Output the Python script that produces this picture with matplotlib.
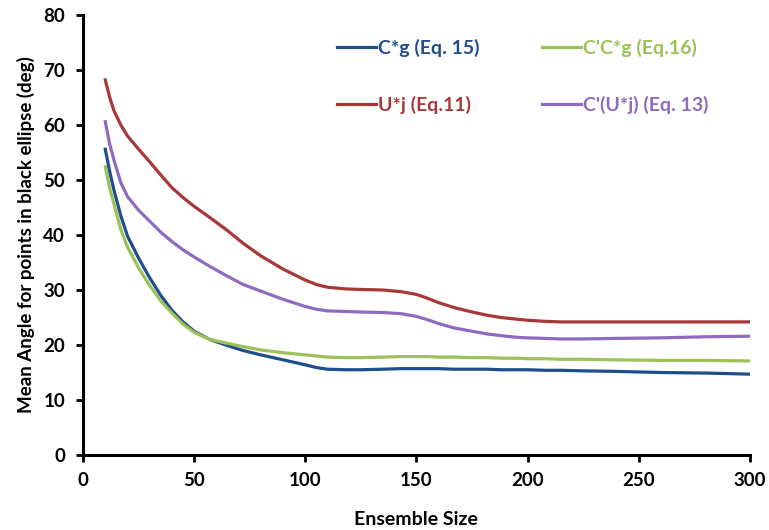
import numpy as np
import matplotlib.pyplot as plt

plt.rcParams['font.family'] = ['Lato', 'DejaVu Sans']

ens = [10, 12, 14, 17, 20, 25, 30, 35, 40, 45, 50, 57, 65, 72, 80, 90, 100, 105, 110, 118,
       125, 135, 143, 150, 155, 160, 167, 175, 182, 188, 195, 200, 208, 215, 225, 240, 260, 280, 300]

cg = [55.6, 51.5, 48.0, 43.5, 39.8, 35.8, 32.2, 29.0, 26.3, 24.2, 22.5, 21.0, 19.9, 19.0, 18.2, 17.3, 16.4, 15.9, 15.6, 15.5,
      15.5, 15.6, 15.7, 15.7, 15.7, 15.7, 15.6, 15.6, 15.6, 15.5, 15.5, 15.5, 15.4, 15.4, 15.3, 15.2, 15.0, 14.9, 14.7]
ccg = [52.4, 48.5, 45.5, 41.0, 37.8, 34.0, 30.8, 28.0, 25.8, 23.8, 22.3, 21.0, 20.3, 19.7, 19.1, 18.6, 18.2, 18.0, 17.8, 17.7,
       17.7, 17.8, 17.9, 17.9, 17.9, 17.8, 17.8, 17.7, 17.7, 17.6, 17.6, 17.5, 17.5, 17.4, 17.4, 17.3, 17.2, 17.2, 17.1]
uj = [68.2, 65.0, 62.5, 60.0, 58.0, 55.6, 53.3, 50.9, 48.6, 46.8, 45.2, 43.2, 40.8, 38.5, 36.2, 33.8, 31.8, 31.0, 30.5, 30.2,
      30.1, 30.0, 29.7, 29.2, 28.5, 27.7, 26.8, 26.0, 25.4, 25.0, 24.7, 24.5, 24.3, 24.2, 24.2, 24.2, 24.2, 24.2, 24.2]
cuj = [60.6, 56.5, 53.5, 49.5, 47.0, 44.5, 42.5, 40.5, 38.8, 37.3, 36.0, 34.3, 32.5, 31.0, 29.8, 28.3, 27.0, 26.5, 26.2, 26.1,
       26.0, 25.9, 25.7, 25.2, 24.6, 23.9, 23.1, 22.5, 22.0, 21.7, 21.4, 21.3, 21.2, 21.1, 21.1, 21.2, 21.3, 21.5, 21.6]

labels = ['C*g (Eq. 15)', 'U*j (Eq.11)', "C'C*g (Eq.16)", "C'(U*j) (Eq. 13)"]
colors = ['#1f4e8c', '#a83838', '#9bc157', '#8e6bbf']

fig = plt.figure(figsize=(7.69, 5.30), dpi=100)
ax = fig.add_axes([0.108, 0.1415, 0.867, 0.8302])

for ys, lab, c in zip([cg, uj, ccg, cuj], labels, colors):
    ax.plot(ens, ys, color=c, lw=2.3, label=lab, solid_joinstyle='round')

ax.set_xlim(0, 300)
ax.set_ylim(0, 80)
ax.set_xticks(np.arange(0, 301, 50))
ax.set_yticks(np.arange(0, 81, 10))

for s in ['top', 'right']:
    ax.spines[s].set_visible(False)
for s in ['left', 'bottom']:
    ax.spines[s].set_linewidth(2.2)
ax.tick_params(direction='out', length=5, width=2, labelsize=13.5)
ax.tick_params(axis='x', pad=7)
ax.tick_params(axis='y', pad=8)
for t in ax.get_xticklabels() + ax.get_yticklabels():
    t.set_fontweight('bold')

ax.set_xlabel('Ensemble Size', fontsize=14, fontweight='bold', labelpad=16)
ax.set_ylabel('Mean Angle for points in black ellipse (deg)', fontsize=13.5, fontweight='bold', labelpad=6)

leg = ax.legend(ncol=2, frameon=False, labelcolor='linecolor', loc='upper left',
                bbox_to_anchor=(0.355, 0.985), handlelength=2.0, handletextpad=0.1,
                labelspacing=2.0, columnspacing=3.2,
                prop={'weight': 'bold', 'size': 14})

fig.savefig('out.png', dpi=100)
